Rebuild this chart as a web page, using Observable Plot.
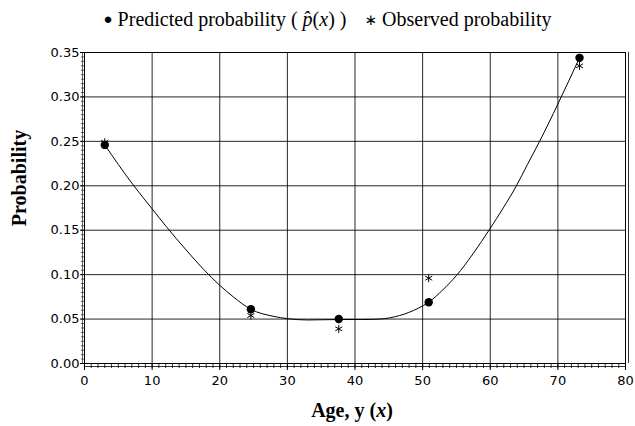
<!DOCTYPE html>
<html><head><meta charset="utf-8">
<script src="https://cdn.jsdelivr.net/npm/d3@7"></script>
<script src="https://cdn.jsdelivr.net/npm/@observablehq/plot@0.6"></script>
<style>
body{margin:0;background:#fff;width:635px;height:426px;overflow:hidden}
#legend{height:36px;box-sizing:border-box;padding-top:8px;text-align:center;font-family:"Liberation Serif","Times New Roman",serif;font-size:20px;color:#000;line-height:22px;white-space:nowrap;padding-left:20px}
#legend .dot{font-size:15px;position:relative;top:-2px}
#legend .ast{font-family:"DejaVu Sans",sans-serif;font-size:15px;margin-left:18px;position:relative;top:-1px}
#chart svg{display:block}
</style></head><body>
<div id="legend"></div><div id="chart"></div>
<script>
// data
const ages      = [3.0, 24.6, 37.6, 50.9, 73.2];
const predicted = [0.246, 0.061, 0.050, 0.069, 0.344];
const observed  = [0.249, 0.054, 0.039, 0.096, 0.335];
// fitted curve
const curveAge  = [3.0, 5.0, 7.3, 10.0, 12.1, 15.0, 17.6, 20.0, 22.0, 24.6, 28.0, 30.0, 33.0, 37.6, 41.0, 43.6, 46.6, 49.3, 50.9, 53.0, 55.0, 57.5, 59.9, 62.0, 63.8, 65.5, 67.3, 70.0, 73.2];
const curveProb = [0.246, 0.224, 0.200, 0.174, 0.154, 0.128, 0.106, 0.088, 0.075, 0.061, 0.053, 0.0505, 0.049, 0.0495, 0.0495, 0.050, 0.054, 0.062, 0.069, 0.083, 0.099, 0.124, 0.151, 0.176, 0.199, 0.224, 0.250, 0.292, 0.344];
const xTicks = [0, 10, 20, 30, 40, 50, 60, 70, 80];
const yTicks = [0, 0.05, 0.10, 0.15, 0.20, 0.25, 0.30, 0.35];
const xMinor = d3.range(0, 81, 1);
const yMinor = d3.range(0, 0.3501, 0.005);
const seriesNames = ["Predicted probability", "Observed probability"];
const xTitle = "Age, y";
const yTitle = "Probability";

document.getElementById("legend").innerHTML =
  `<span class="dot">●</span> ${seriesNames[0]} ( <i>p̂</i>(<i>x</i>) )` +
  `<span class="ast">∗</span> ${seriesNames[1]}`;

const pts = ages.map((a, i) => ({age: a, pred: predicted[i], obs: observed[i]}));
const curve = curveAge.map((a, i) => ({age: a, p: curveProb[i]}));

const svg = Plot.plot({
  width: 635,
  height: 390,
  marginTop: 16,
  marginBottom: 63,
  marginLeft: 84,
  marginRight: 10,
  style: {fontFamily: "DejaVu Sans, sans-serif", fontSize: "13px", color: "#000", background: "#fff"},
  x: {domain: [0, 80], label: null},
  y: {domain: [0, 0.35], label: null},
  marks: [
    Plot.gridX(xTicks, {stroke: "#000", strokeOpacity: 0.85}),
    Plot.gridY(yTicks, {stroke: "#000", strokeOpacity: 0.85}),
    Plot.frame({stroke: "#000"}),
    Plot.ruleY([0], {dy: 3, stroke: "#000", strokeOpacity: 0.8}),
    Plot.ruleX([80], {dx: 3, stroke: "#000", strokeOpacity: 0.8}),
    Plot.ruleX([0], {dx: -2, stroke: "#000", strokeOpacity: 0.6}),
    Plot.axisX(xMinor, {tickSize: 5, tickFormat: () => "", label: null, strokeOpacity: 0.8}),
    Plot.axisX(xTicks, {tickSize: 7, tickPadding: 5, label: null, tickFormat: d3.format("d"), letterSpacing: "0.8px"}),
    Plot.axisY(yMinor, {tickSize: 3, tickFormat: () => "", label: null, strokeOpacity: 0.6}),
    Plot.axisY(yTicks, {tickSize: 4, tickPadding: 1, label: null, tickFormat: d3.format(".2f"), letterSpacing: "1.2px"}),
    Plot.line(curve, {x: "age", y: "p", curve: "monotone-x", stroke: "#000", strokeWidth: 1}),
    Plot.dot(pts, {x: "age", y: "obs", symbol: "asterisk", r: 3.8, stroke: "#000", strokeWidth: 1}),
    Plot.dot(pts, {x: "age", y: "pred", r: 4.2, fill: "#000", stroke: "none"})
  ]
});
document.getElementById("chart").appendChild(svg);

const s = d3.select(svg);
s.append("text")
  .attr("transform", "translate(19,142) rotate(-90)")
  .attr("text-anchor", "middle")
  .attr("dominant-baseline", "central")
  .style("font-family", "'Liberation Serif', serif")
  .style("font-weight", "bold")
  .style("font-size", "20px")
  .attr("fill", "#000")
  .text(yTitle);
const xt = s.append("text")
  .attr("x", 352).attr("y", 381)
  .attr("text-anchor", "middle")
  .style("font-family", "'Liberation Serif', serif")
  .style("font-weight", "bold")
  .style("font-size", "20px")
  .attr("fill", "#000");
xt.append("tspan").text(xTitle + " (");
xt.append("tspan").style("font-style", "italic").text("x");
xt.append("tspan").text(")");
</script>
</body></html>
